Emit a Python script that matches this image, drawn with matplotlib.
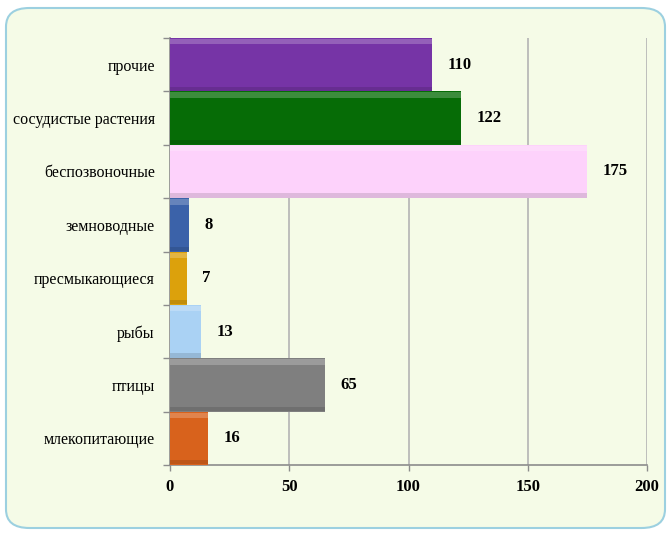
import matplotlib
matplotlib.use("Agg")
import matplotlib.pyplot as plt
from matplotlib.patches import FancyBboxPatch

categories = ["млекопитающие", "птицы", "рыбы", "пресмыкающиеся",
              "земноводные", "беспозвоночные", "сосудистые растения", "прочие"]
values = [16, 65, 13, 7, 8, 175, 122, 110]
colors = ["#D8621C", "#7F7F7F", "#AAD2F4", "#DCA10C",
          "#3B62A9", "#FDD2FB", "#066C06", "#7634A6"]
x_ticks = [0, 50, 100, 150, 200]

plt.rcParams['font.family'] = ['Liberation Serif', 'DejaVu Serif']

fig = plt.figure(figsize=(6.7, 5.34), dpi=100)
fig.patch.set_facecolor("white")

frame = FancyBboxPatch((6 / 670, 6 / 534), 659 / 670, 520 / 534,
                       boxstyle="round,pad=0,rounding_size=0.035",
                       transform=fig.transFigure, facecolor="#F5FBE7",
                       edgecolor="#9CD0E0", linewidth=1.5, zorder=-5)
fig.add_artist(frame)

ax = fig.add_axes([170 / 670, 69 / 534, 477 / 670, 427 / 534])
ax.set_facecolor("none")
ax.set_zorder(2)

pos = list(range(len(categories)))
ax.barh(pos, values, height=1.0, color=colors, zorder=3)

# simple bevel look: light top strip and darker bottom strip
ax.barh([p + 0.43 for p in pos], values, height=0.1, color="white", alpha=0.22,
        zorder=4, linewidth=0)
ax.barh([p - 0.45 for p in pos], values, height=0.08, color="black", alpha=0.12,
        zorder=4, linewidth=0)

for p, v in zip(pos, values):
    ax.annotate(str(v), (v, p), xytext=(11, 0), textcoords="offset points",
                ha="left", va="center", fontsize=12, fontweight="bold")

ax.set_xlim(0, 200)
ax.set_ylim(-0.5, len(categories) - 0.5)
ax.set_xticks(x_ticks)
ax.set_xticklabels([str(t) for t in x_ticks], fontsize=12, fontweight="bold")
ax.set_yticks(pos)
ax.set_yticklabels(categories, fontsize=11.5)
ax.set_yticks([p - 0.5 for p in pos] + [len(categories) - 0.5], minor=True)
ax.tick_params(axis="y", which="major", length=0, pad=11)
ax.tick_params(axis="y", which="minor", length=5, color="#8C8C8C", width=1)
ax.tick_params(axis="x", length=4, color="#8C8C8C", width=1, pad=6)

ax.grid(axis="x", color="#B4B4B4", linewidth=1.2, zorder=1)
for side in ["top", "right"]:
    ax.spines[side].set_visible(False)
for side in ["left", "bottom"]:
    ax.spines[side].set_color("#8C8C8C")
    ax.spines[side].set_linewidth(1.2)

fig.savefig("out.png", dpi=100)
